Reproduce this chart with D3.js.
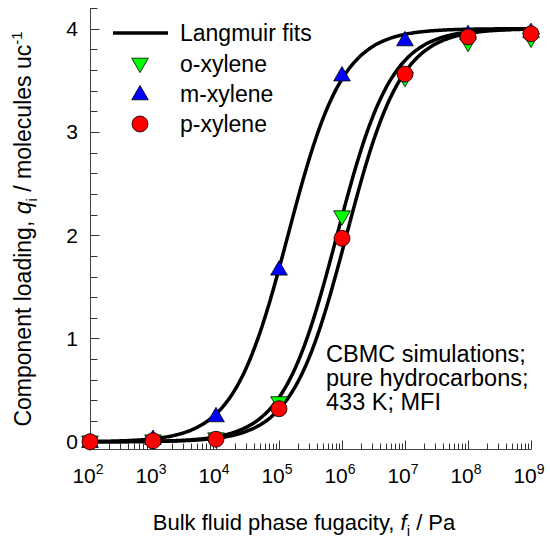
<!DOCTYPE html>
<html>
<head>
<meta charset="utf-8">
<script src="https://cdn.jsdelivr.net/npm/d3@7"></script>
<style>
  body { margin: 0; background: #fff; }
  text { font-family: Arial, "Liberation Sans", sans-serif; fill: #000; }
</style>
</head>
<body>
<script>
// fugacity, Pa
const fugacity = [1e2, 1e3, 1e4, 1e5, 1e6, 1e7, 1e8, 1e9];
// CBMC loadings, molecules per unit cell
const oXylene = [0.0, 0.01, 0.03, 0.38, 2.18, 3.52, 3.86, 3.90];
const mXylene = [0.0, 0.03, 0.25, 1.67, 3.55, 3.89, 3.95, 3.97];
const pXylene = [0.0, 0.01, 0.025, 0.32, 1.97, 3.56, 3.92, 3.95];

// Langmuir fit parameters [qsat, b (1/Pa)] for o, m, p
const fitNames = ["o-xylene", "m-xylene", "p-xylene"];
const fitQsat = [4.0, 4.0, 4.0];
const fitB = [1.2e-6, 7.2e-6, 0.85e-6];

const xTickExp = [2, 3, 4, 5, 6, 7, 8, 9];
const yTicks = [0, 1, 2, 3, 4];

const width = 550, height = 543;

const svg = d3.select("body")
              .append("svg")
              .attr("width", width)
              .attr("height", height);

const x = d3.scaleLog().domain([1e2, 1e9]).range([90, 531]);
const y = d3.scaleLinear().domain([-0.07, 4.2]).range([449, 8]);

// y axis, ticks pointing inward
svg.append("line")
    .attr("x1", 90.5).attr("y1", y(4.2))
    .attr("x2", 90.5).attr("y2", y(-0.07))
    .attr("stroke", "#444");

d3.range(0, 4.21, 0.2).forEach(v => {
  const major = Math.abs(v - Math.round(v)) < 1e-6;
  svg.append("line")
      .attr("x1", 90.5).attr("x2", 90.5 + (major ? 9 : 7))
      .attr("y1", Math.round(y(v)) + 0.5).attr("y2", Math.round(y(v)) + 0.5)
      .attr("stroke", "#333");
});

svg.selectAll(".ylab")
  .data(yTicks)
  .enter()
  .append("text")
    .attr("x", 78)
    .attr("y", d => y(d) + 7.5)
    .attr("text-anchor", "end")
    .style("font-size", "21px")
    .text(d => d);

// x axis
svg.append("line")
    .attr("x1", 90).attr("y1", 449.5)
    .attr("x2", 531).attr("y2", 449.5)
    .attr("stroke", "#444");

xTickExp.forEach(e => {
  for (let m = 1; m <= 9; m++) {
    if (e === 9 && m > 1) break;
    const v = m * Math.pow(10, e);
    const px = Math.round(x(v)) + 0.5;
    svg.append("line")
        .attr("x1", px).attr("x2", px)
        .attr("y1", 449.5).attr("y2", 449.5 - (m === 1 ? 9 : 6))
        .attr("stroke", "#333");
  }
});

const xl = svg.selectAll(".xlab")
  .data(xTickExp)
  .enter()
  .append("text")
    .attr("x", d => x(Math.pow(10, d)) - 2)
    .attr("y", 483)
    .attr("text-anchor", "middle")
    .style("font-size", "21px");
xl.append("tspan").text("10");
xl.append("tspan").attr("dy", -9).style("font-size", "14px").text(d => d);

// axis titles
const xt = svg.append("text")
    .attr("x", 304).attr("y", 530)
    .attr("text-anchor", "middle")
    .style("font-size", "22px");
xt.append("tspan").text("Bulk fluid phase fugacity, ");
xt.append("tspan").style("font-style", "italic").text("f");
xt.append("tspan").attr("dy", 6).style("font-size", "15px").text("i");
xt.append("tspan").attr("dy", -6).text(" / Pa");

const yt = svg.append("text")
    .attr("transform", "translate(31,229) rotate(-90)")
    .attr("text-anchor", "middle")
    .style("font-size", "23px");
yt.append("tspan").text("Component loading, ");
yt.append("tspan").style("font-style", "italic").text("q");
yt.append("tspan").attr("dy", 6).style("font-size", "15px").text("i");
yt.append("tspan").attr("dy", -6).text(" / molecules uc");
yt.append("tspan").attr("dy", -9).style("font-size", "15px").text("-1");

// Langmuir fit curves
const fGrid = d3.range(2, 9.001, 0.02).map(e => Math.pow(10, e));
const line = d3.line()
    .x(d => x(d[0]))
    .y(d => y(d[1]))
    .curve(d3.curveBasis);

fitNames.forEach((n, i) => {
  const pts = fGrid.map(f => [f, fitQsat[i] * fitB[i] * f / (1 + fitB[i] * f)]);
  svg.append("path")
      .datum(pts)
      .attr("d", line)
      .attr("fill", "none")
      .attr("stroke", "#000")
      .attr("stroke-width", 3.5);
});

// markers
const triSize = 120;
const circR = 8;

svg.selectAll(".o")
  .data(d3.zip(fugacity, oXylene))
  .enter()
  .append("path")
    .attr("d", d3.symbol(d3.symbolTriangle, triSize))
    .attr("transform", d => `translate(${x(d[0])},${y(d[1]) - 1}) rotate(180)`)
    .attr("fill", "#00ff00")
    .attr("stroke", "#000")
    .attr("stroke-width", 0.8);

svg.selectAll(".m")
  .data(d3.zip(fugacity, mXylene))
  .enter()
  .append("path")
    .attr("d", d3.symbol(d3.symbolTriangle, triSize))
    .attr("transform", d => `translate(${x(d[0])},${y(d[1]) + 1})`)
    .attr("fill", "#0000ff")
    .attr("stroke", "#000")
    .attr("stroke-width", 0.8);

svg.selectAll(".p")
  .data(d3.zip(fugacity, pXylene))
  .enter()
  .append("circle")
    .attr("cx", d => x(d[0]))
    .attr("cy", d => y(d[1]))
    .attr("r", circR)
    .attr("fill", "#ff0000")
    .attr("stroke", "#000")
    .attr("stroke-width", 0.8);

// legend
const leg = svg.append("g");
leg.append("line")
    .attr("x1", 113).attr("x2", 168)
    .attr("y1", 33).attr("y2", 33)
    .attr("stroke", "#000").attr("stroke-width", 3.5);

const legRows = [
  {label: "Langmuir fits", y: 33},
  {label: "o-xylene", y: 64},
  {label: "m-xylene", y: 94},
  {label: "p-xylene", y: 124}
];
leg.selectAll("text")
  .data(legRows)
  .enter()
  .append("text")
    .attr("x", 180)
    .attr("y", d => d.y + 8)
    .style("font-size", "23px")
    .text(d => d.label);

leg.append("path")
    .attr("d", d3.symbol(d3.symbolTriangle, triSize))
    .attr("transform", "translate(140,63) rotate(180)")
    .attr("fill", "#00ff00").attr("stroke", "#000").attr("stroke-width", 0.8);
leg.append("path")
    .attr("d", d3.symbol(d3.symbolTriangle, triSize))
    .attr("transform", "translate(140,95)")
    .attr("fill", "#0000ff").attr("stroke", "#000").attr("stroke-width", 0.8);
leg.append("circle")
    .attr("cx", 140).attr("cy", 124).attr("r", circR)
    .attr("fill", "#ff0000").attr("stroke", "#000").attr("stroke-width", 0.8);

// annotation
const note = ["CBMC simulations;", "pure hydrocarbons;", "433 K; MFI"];
svg.selectAll(".note")
  .data(note)
  .enter()
  .append("text")
    .attr("x", 326)
    .attr("y", (d, i) => 362 + i * 24)
    .style("font-size", "23.5px")
    .text(d => d);
</script>
</body>
</html>
